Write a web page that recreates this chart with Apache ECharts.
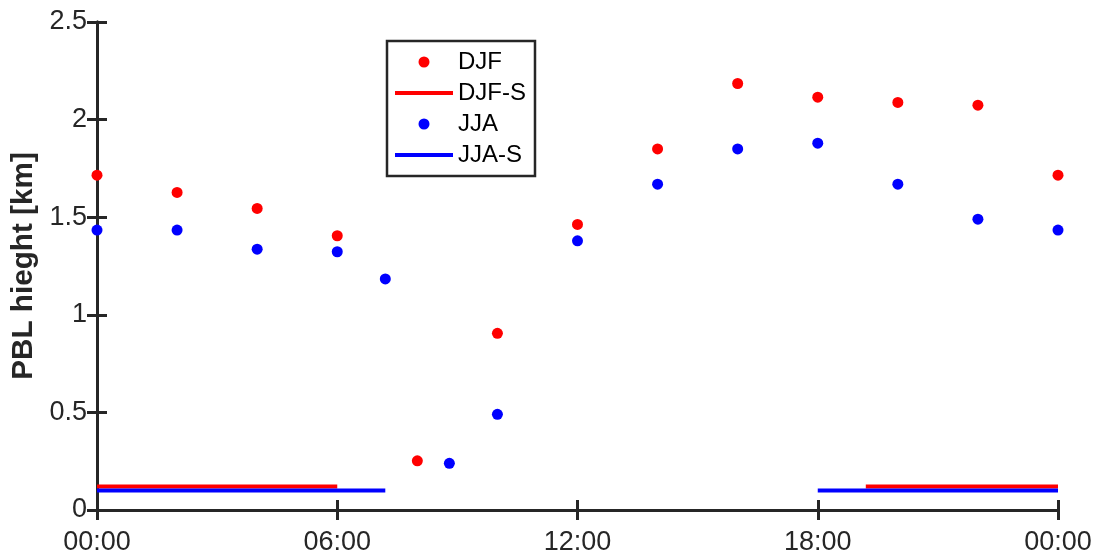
<!DOCTYPE html>
<html>
<head>
<meta charset="utf-8">
<script src="https://cdn.jsdelivr.net/npm/echarts@6/dist/echarts.min.js"></script>
<style>
html,body{margin:0;padding:0;background:#fff;}
#chart{width:1096px;height:553px;}
</style>
</head>
<body>
<div id="chart"></div>
<script>
// Hours of day
var djfHours = [0, 2, 4, 6, 8, 10, 12, 14, 16, 18, 20, 22, 24];
var djfValues = [1.715, 1.627, 1.545, 1.405, 0.252, 0.905, 1.463, 1.850, 2.185, 2.115, 2.088, 2.074, 1.715];
var jjaHours = [0, 2, 4, 6, 7.2, 8.8, 10, 12, 14, 16, 18, 20, 22, 24];
var jjaValues = [1.434, 1.434, 1.336, 1.323, 1.184, 0.239, 0.490, 1.379, 1.669, 1.850, 1.879, 1.669, 1.490, 1.434];
// Stable (night) periods: [start hour, end hour]
var djfStable = [[0, 6], [19.2, 24]];
var djfStableLevel = 0.12;
var jjaStable = [[0, 7.2], [18, 24]];
var jjaStableLevel = 0.10;
var xTicks = [0, 6, 12, 18, 24];
var xTickLabels = ['00:00', '06:00', '12:00', '18:00', '00:00'];
var yTickLabels = ['0', '0.5', '1', '1.5', '2', '2.5'];

var FONT = 'Liberation Sans, Arial, sans-serif';
var AX = '#262626';
var RED = '#ff0000', BLUE = '#0000ff';

function pairs(h, v) { return h.map(function (x, i) { return [x, v[i]]; }); }

var series = [];
series.push({
  name: 'DJF', type: 'scatter', symbol: 'circle', symbolSize: 11,
  itemStyle: { color: RED, opacity: 1 }, data: pairs(djfHours, djfValues), z: 5
});
djfStable.forEach(function (s) {
  series.push({
    name: 'DJF-S', type: 'line', symbol: 'none', showSymbol: false,
    lineStyle: { color: RED, width: 4 }, itemStyle: { color: RED },
    data: [[s[0], djfStableLevel], [s[1], djfStableLevel]], z: 3
  });
});
series.push({
  name: 'JJA', type: 'scatter', symbol: 'circle', symbolSize: 11,
  itemStyle: { color: BLUE, opacity: 1 }, data: pairs(jjaHours, jjaValues), z: 5
});
jjaStable.forEach(function (s) {
  series.push({
    name: 'JJA-S', type: 'line', symbol: 'none', showSymbol: false,
    lineStyle: { color: BLUE, width: 4 }, itemStyle: { color: BLUE },
    data: [[s[0], jjaStableLevel], [s[1], jjaStableLevel]], z: 4
  });
});

// legend icons drawn in a 58x22 box
var dotIcon = 'path://M0,0 M58,22 M23.5,11 A5.5,5.5 0 1,0 34.5,11 A5.5,5.5 0 1,0 23.5,11 Z';
var lineIcon = 'path://M0,0 M58,22 M0,9 L58,9 L58,13 L0,13 Z';

var chart = echarts.init(document.getElementById('chart'), null, { renderer: 'canvas' });
chart.setOption({
  animation: false,
  backgroundColor: '#ffffff',
  grid: { left: 97, right: 38, top: 22, bottom: 43, containLabel: false, outerBoundsMode: 'none' },
  legend: {
    orient: 'vertical', left: 387, top: 41,
    padding: [9, 9, 9, 8],
    itemGap: 7,
    itemWidth: 58, itemHeight: 22,
    borderColor: AX, borderWidth: 2.5, backgroundColor: '#fff',
    textStyle: { fontFamily: FONT, fontSize: 24, color: '#000' },
    data: [
      { name: 'DJF', icon: dotIcon, itemStyle: { color: RED } },
      { name: 'DJF-S', icon: lineIcon, itemStyle: { color: RED } },
      { name: 'JJA', icon: dotIcon, itemStyle: { color: BLUE } },
      { name: 'JJA-S', icon: lineIcon, itemStyle: { color: BLUE } }
    ]
  },
  xAxis: [{
    type: 'value', min: 0, max: 24, interval: 6, position: 'bottom',
    axisLine: { show: true, lineStyle: { color: AX, width: 3 } },
    axisTick: { show: true, inside: true, length: 10, lineStyle: { color: AX, width: 3 } },
    axisLabel: {
      fontFamily: FONT, fontSize: 27, color: AX, margin: 19,
      formatter: function (v) { var i = xTicks.indexOf(v); return i >= 0 ? xTickLabels[i] : ''; }
    },
    splitLine: { show: false }
  }, {
    type: 'value', min: 0, max: 24, interval: 6, position: 'top',
    axisLine: { show: true, lineStyle: { color: AX, width: 3 } },
    axisTick: { show: true, inside: true, length: 10, lineStyle: { color: AX, width: 3 } },
    axisLabel: { show: false }, splitLine: { show: false }
  }],
  yAxis: [{
    type: 'value', min: 0, max: 2.5, interval: 0.5, position: 'left',
    name: 'PBL hieght [km]', nameLocation: 'middle', nameGap: 57, nameRotate: 90,
    nameTextStyle: { fontFamily: FONT, fontSize: 29.7, fontWeight: 'bold', color: AX },
    axisLine: { show: true, lineStyle: { color: AX, width: 3 } },
    axisTick: { show: true, inside: true, length: 10, lineStyle: { color: AX, width: 3 } },
    axisLabel: {
      fontFamily: FONT, fontSize: 27, color: AX, margin: 10, padding: [5, 0, 0, 0],
      formatter: function (v) { var i = Math.round(v / 0.5); return yTickLabels[i] !== undefined ? yTickLabels[i] : ''; }
    },
    splitLine: { show: false }
  }, {
    type: 'value', min: 0, max: 2.5, interval: 0.5, position: 'right',
    axisLine: { show: true, lineStyle: { color: AX, width: 3 } },
    axisTick: { show: true, inside: true, length: 10, lineStyle: { color: AX, width: 3 } },
    axisLabel: { show: false }, splitLine: { show: false }
  }],
  series: series
});
</script>
</body>
</html>
